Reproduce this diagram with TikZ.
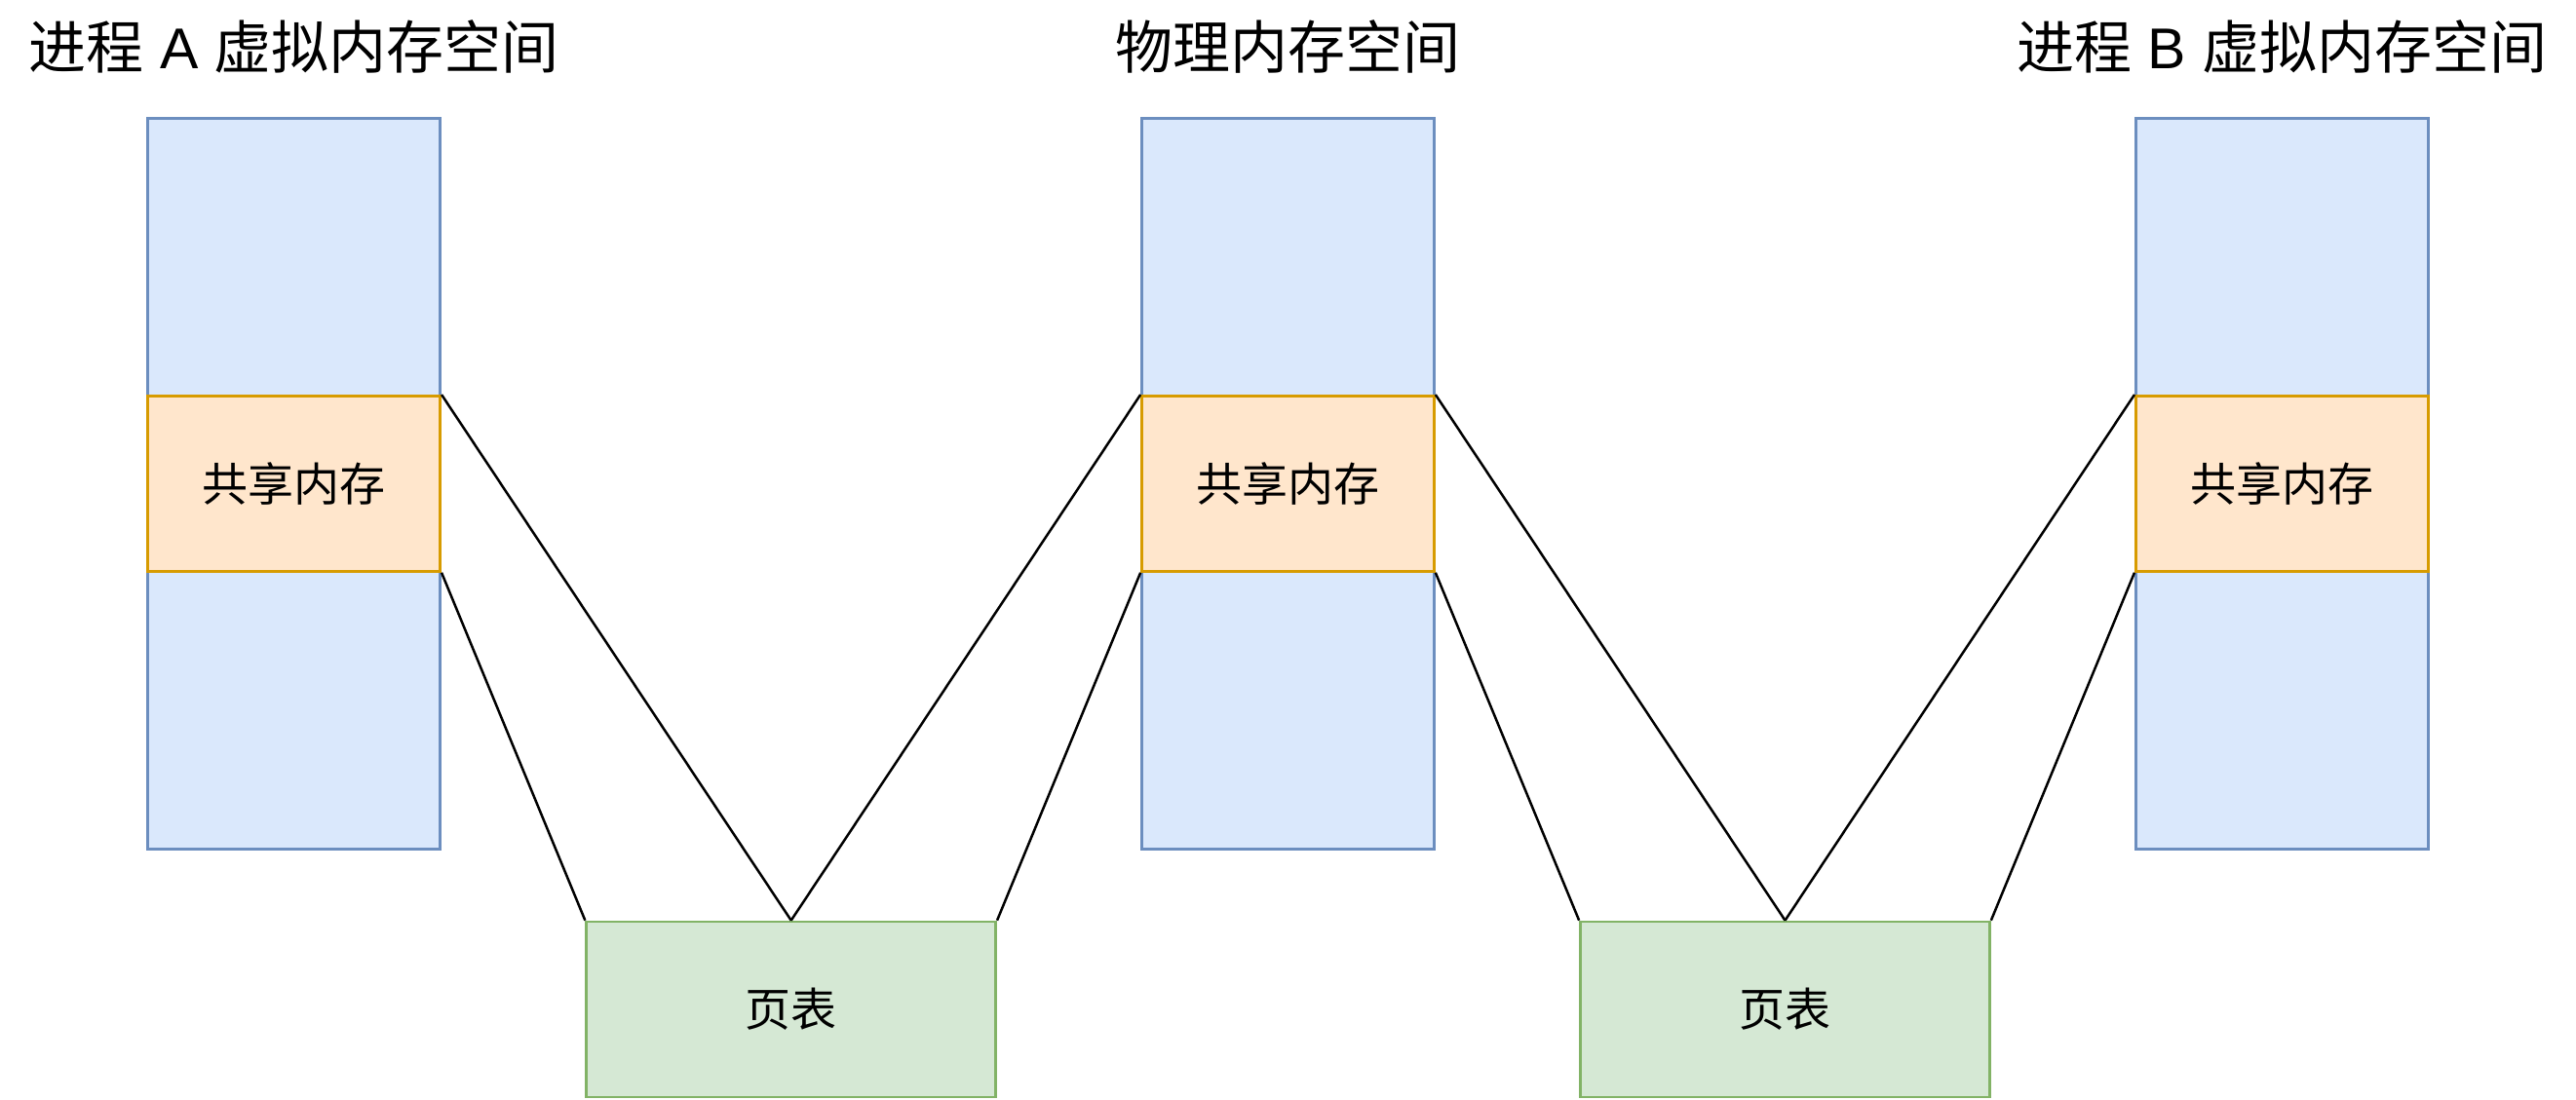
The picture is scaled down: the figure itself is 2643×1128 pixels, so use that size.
\documentclass[tikz,border=0pt]{standalone}
\usepackage{fontspec}
\setmainfont{Noto Sans CJK SC}
\newfontfamily\latinpart{Liberation Sans}
\definecolor{bluefill}{HTML}{DAE8FC}
\definecolor{bluedraw}{HTML}{6C8EBF}
\definecolor{orangefill}{HTML}{FFE6CC}
\definecolor{orangedraw}{HTML}{D79B00}
\definecolor{greenfill}{HTML}{D5E8D4}
\definecolor{greendraw}{HTML}{82B366}
\tikzset{
  colbox/.style={rectangle, draw=bluedraw, fill=bluefill, line width=2.7pt,
    minimum width=300pt, minimum height=750pt, inner sep=0pt},
  sharebox/.style={rectangle, draw=orangedraw, fill=orangefill, line width=2.7pt,
    minimum width=300pt, minimum height=180pt, inner sep=0pt,
    font=\fontsize{47pt}{50pt}\selectfont},
  ptbox/.style={rectangle, draw=greendraw, fill=greenfill, line width=2.7pt,
    minimum width=420pt, minimum height=180pt, inner sep=0pt,
    font=\fontsize{47pt}{50pt}\selectfont},
  titletext/.style={anchor=base, inner sep=0pt, font=\fontsize{59pt}{62pt}\selectfont},
  link/.style={draw=black, line width=2.5pt}
}
\begin{document}
\begin{tikzpicture}[x=1pt, y=-1pt]
\useasboundingbox (0,0) rectangle (2643,1128);
% columns
\node[colbox] (colA) at (301.7,496.5) {};
\node[colbox] (colP) at (1321.5,496.5) {};
\node[colbox] (colB) at (2341.3,496.5) {};
\node[sharebox] (shA) at (301.7,496.4) {共享内存};
\node[sharebox] (shP) at (1321.5,496.4) {共享内存};
\node[sharebox] (shB) at (2341.3,496.4) {共享内存};
% page tables
\node[ptbox] (pt1) at (811.7,1036) {页表};
\node[ptbox] (pt2) at (1831.5,1036) {页表};
% titles
\node[titletext] (tA) at (301.7,70) {进程{\latinpart\ A\ }虚拟内存空间};
\node[titletext] (tP) at (1321.5,70) {物理内存空间};
\node[titletext] (tB) at (2341.3,70) {进程{\latinpart\ B\ }虚拟内存空间};
% connectors
\draw[link] (shA.north east) -- (pt1.north);
\draw[link] (shA.south east) -- (pt1.north west);
\draw[link] (pt1.north) -- (shP.north west);
\draw[link] (pt1.north east) -- (shP.south west);
\draw[link] (shP.north east) -- (pt2.north);
\draw[link] (shP.south east) -- (pt2.north west);
\draw[link] (pt2.north) -- (shB.north west);
\draw[link] (pt2.north east) -- (shB.south west);
\end{tikzpicture}
\end{document}
